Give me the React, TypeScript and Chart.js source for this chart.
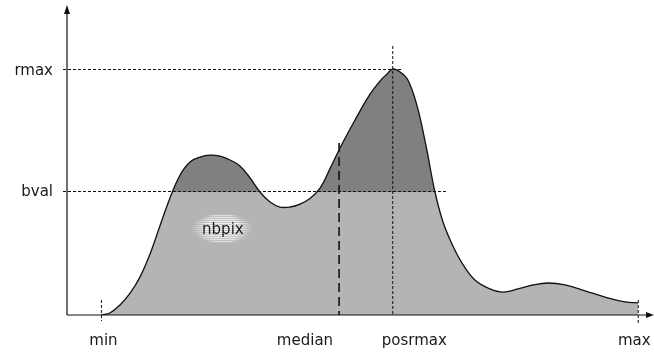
import { useEffect, useRef } from "react";
import { Chart, registerables } from "chart.js";

Chart.register(...registerables);

// Histogram profile (grey level -> pixel count)
const histX = [
  15, 18.7, 23.1, 27.5, 31.8, 36.2, 40.5, 44.9, 49.3, 53.6, 58.0, 62.3, 66.7,
  71.1, 75.4, 79.8, 84.1, 88.5, 92.8, 97.2, 101.6, 105.9, 110.3, 114.6, 119.0,
  123.4, 127.7, 132.1, 136.4, 139.5, 142, 145.2, 148.6, 152.6, 156.5, 160.4,
  163.9, 167.8, 172.2, 177.8, 184.4, 190.1, 196.6, 203.1, 209.7, 217.1, 225.8,
  234.5, 243.2, 249,
];
const histY = [
  0, 0.8, 4.1, 8.9, 15.4, 24.8, 36.2, 47.6, 56.9, 62.2, 64.2, 65.0, 64.6,
  63.0, 60.6, 55.7, 50.0, 45.9, 43.9, 43.9, 45.1, 47.4, 51.6, 59.4, 67.9,
  75.6, 82.9, 89.8, 95.1, 98.0, 100, 98.8, 95.5, 85.0, 68.7, 50.0,
  37.8, 28.9, 21.1, 14.2, 10.6, 9.3, 10.6, 12.2, 13.0, 12.2, 9.8,
  7.3, 5.3, 4.9,
];

// Marked statistics
const X_MIN = 15;
const X_MAX = 249;
const X_MEDIAN = 118.6;
const X_POSRMAX = 142;
const R_MAX = 100;
const B_VAL = 50;

const xLabels = ["min", "median", "posrmax", "max"];
const yLabels = ["rmax", "bval"];
const areaLabel = "nbpix";
const areaLabelPos = [67.6, 35.4];

const LIGHT = "rgb(180,180,180)";
const DARK = "rgb(128,128,128)";
const FONT = '15px "DejaVu Sans", sans-serif';

const overlay = {
  id: "overlay",
  afterDatasetsDraw(chart: any) {
    const { ctx, chartArea, scales } = chart;
    const xs = scales.x;
    const ys = scales.y;
    const left = chartArea.left;
    const bottom = chartArea.bottom;
    const px = (v: number) => xs.getPixelForValue(v);
    const py = (v: number) => ys.getPixelForValue(v);

    ctx.save();
    ctx.strokeStyle = "#111";
    ctx.fillStyle = "#111";

    // dashed reference lines
    ctx.lineWidth = 1;
    ctx.setLineDash([3, 2]);
    const dashed = (x1: number, y1: number, x2: number, y2: number) => {
      ctx.beginPath();
      ctx.moveTo(x1, y1);
      ctx.lineTo(x2, y2);
      ctx.stroke();
    };
    dashed(left - 4, py(R_MAX) + 0.5, px(X_POSRMAX) + 9, py(R_MAX) + 0.5);
    dashed(left - 4, py(B_VAL) - 0.5, 448, py(B_VAL) - 0.5);
    dashed(px(X_POSRMAX), py(R_MAX) - 23, px(X_POSRMAX), bottom);
    dashed(px(X_MIN), bottom - 15, px(X_MIN), bottom + 6);
    dashed(px(X_MAX), bottom - 15, px(X_MAX), bottom + 10);

    // median: long dashes
    ctx.lineWidth = 1.6;
    ctx.setLineDash([9, 5]);
    dashed(px(X_MEDIAN), 143, px(X_MEDIAN), bottom);

    // axes with arrows
    ctx.setLineDash([]);
    ctx.lineWidth = 1.2;
    ctx.beginPath();
    ctx.moveTo(left, bottom);
    ctx.lineTo(left, chartArea.top + 2);
    ctx.moveTo(left, bottom);
    ctx.lineTo(chartArea.right - 2, bottom);
    ctx.stroke();
    ctx.beginPath();
    ctx.moveTo(left, chartArea.top - 3);
    ctx.lineTo(left - 3, chartArea.top + 6);
    ctx.lineTo(left + 3, chartArea.top + 6);
    ctx.closePath();
    ctx.fill();
    ctx.beginPath();
    ctx.moveTo(chartArea.right + 2, bottom);
    ctx.lineTo(chartArea.right - 6, bottom - 3);
    ctx.lineTo(chartArea.right - 6, bottom + 3);
    ctx.closePath();
    ctx.fill();

    // hatched halo behind the area label
    const cx = px(areaLabelPos[0]);
    const cy = py(areaLabelPos[1]);
    const rx = 31;
    const ry = 15;
    ctx.save();
    ctx.filter = "blur(0.6px)";
    for (let yy = cy - ry; yy <= cy + ry; yy += 2) {
      const t = (yy - cy) / ry;
      const half = rx * Math.sqrt(Math.max(0, 1 - t * t));
      if (half < 2) continue;
      const g = ctx.createLinearGradient(cx - half, 0, cx + half, 0);
      const a = 0.95 - 0.4 * Math.abs(t);
      g.addColorStop(0, "rgba(255,255,255,0)");
      g.addColorStop(0.25, `rgba(255,255,255,${a})`);
      g.addColorStop(0.75, `rgba(255,255,255,${a})`);
      g.addColorStop(1, "rgba(255,255,255,0)");
      ctx.fillStyle = g;
      ctx.fillRect(cx - half, yy, half * 2, 1.3);
    }
    ctx.restore();

    // text
    ctx.fillStyle = "#1a1a1a";
    ctx.font = FONT;
    ctx.textBaseline = "alphabetic";
    ctx.textAlign = "left";
    ctx.fillText(areaLabel, cx - 20, cy + 6);

    ctx.textAlign = "right";
    ctx.textBaseline = "middle";
    ctx.fillText(yLabels[0], 53, py(R_MAX) + 2);
    ctx.fillText(yLabels[1], 53, py(B_VAL));

    ctx.textBaseline = "alphabetic";
    const base = bottom + 30;
    ctx.textAlign = "center";
    ctx.fillText(xLabels[0], px(X_MIN) + 2, base);
    ctx.textAlign = "right";
    ctx.fillText(xLabels[1], px(X_MEDIAN) - 6, base);
    ctx.textAlign = "left";
    ctx.fillText(xLabels[2], px(X_POSRMAX) - 11, base);
    ctx.textAlign = "center";
    ctx.fillText(xLabels[3], px(X_MAX) - 4, base);
    ctx.restore();
  },
};

export default function App() {
  const ref = useRef<HTMLCanvasElement | null>(null);

  useEffect(() => {
    document.body.style.margin = "0";
    const canvas = ref.current;
    if (!canvas) return;
    const points = histX.map((x, i) => ({ x, y: histY[i] }));
    const chart = new Chart(canvas, {
      type: "line",
      data: {
        datasets: [
          {
            // part of the histogram above the threshold
            data: points,
            borderWidth: 0,
            borderColor: "rgba(0,0,0,0)",
            pointRadius: 0,
            tension: 0.4,
            fill: {
              target: { value: B_VAL },
              above: DARK,
              below: "rgba(0,0,0,0)",
            },
          },
          {
            // whole histogram
            data: points,
            borderWidth: 1.3,
            borderColor: "#111",
            backgroundColor: LIGHT,
            pointRadius: 0,
            tension: 0.4,
            fill: "origin",
          },
        ],
      },
      options: {
        responsive: false,
        animation: false,
        devicePixelRatio: 1,
        layout: { padding: { left: 67, right: 2, top: 8, bottom: 37 } },
        scales: {
          x: { type: "linear", min: 0, max: 255, display: false },
          y: { type: "linear", min: 0, max: 124.8, display: false },
        },
        plugins: {
          legend: { display: false },
          tooltip: { enabled: false },
          filler: { drawTime: "beforeDatasetsDraw" },
        },
      } as any,
      plugins: [overlay],
    });
    return () => chart.destroy();
  }, []);

  return (
    <div style={{ width: 654, height: 352, background: "#fff" }}>
      <canvas ref={ref} width={654} height={352} style={{ display: "block" }} />
    </div>
  );
}
